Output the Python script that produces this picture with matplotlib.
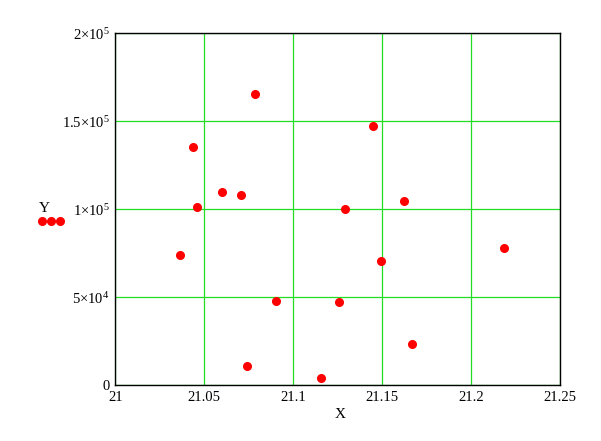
import matplotlib
matplotlib.use('Agg')
import matplotlib.pyplot as plt
from matplotlib.lines import Line2D

# data
x_vals = [21.0365, 21.0438, 21.0461, 21.0601, 21.0708, 21.0787, 21.0742, 21.0904,
          21.1157, 21.1258, 21.1292, 21.1449, 21.1494, 21.1624, 21.1669, 21.2185]
y_vals = [73900, 135600, 101500, 109500, 107800, 165200, 10800, 47700,
          4000, 47200, 99800, 147000, 70300, 104400, 23300, 77700]

x_ticks = [21, 21.05, 21.1, 21.15, 21.2, 21.25]
x_tick_labels = ['21', '21.05', '21.1', '21.15', '21.2', '21.25']
y_ticks = [0, 50000, 100000, 150000, 200000]
y_tick_labels = ['0', r'$5{\times}10^{4}$', r'$1{\times}10^{5}$',
                 r'$1.5{\times}10^{5}$', r'$2{\times}10^{5}$']

plt.rcParams['font.family'] = 'Liberation Serif'
plt.rcParams['mathtext.fontset'] = 'custom'
plt.rcParams['mathtext.rm'] = 'Liberation Serif'
plt.rcParams['mathtext.it'] = 'Liberation Serif'

fig = plt.figure(figsize=(6.01, 4.41), dpi=100)
ax = fig.add_axes([0.1919, 0.127, 0.7404, 0.7975])

ax.plot(x_vals, y_vals, 'o', color='#ff0000', markersize=5.5, zorder=3)

ax.set_xlim(21, 21.25)
ax.set_ylim(0, 200000)
ax.set_xticks(x_ticks)
ax.set_xticklabels(x_tick_labels, fontsize=10.5)
ax.set_yticks(y_ticks)
ax.set_yticklabels(y_tick_labels, fontsize=10.5)
ax.tick_params(length=0, pad=4)

ax.grid(True, color='#22dd22', linewidth=0.9)
for s in ax.spines.values():
    s.set_linewidth(1.0)
    s.set_color('black')

fig.text(340 / 601, 1 - 415 / 441, 'X', ha='center', va='center', fontsize=11)
fig.text(44 / 601, 1 - 209 / 441, 'Y', ha='center', va='center', fontsize=11)
fig.add_artist(Line2D([42 / 601, 51 / 601, 60 / 601], [1 - 221 / 441] * 3,
                      transform=fig.transFigure, linestyle='none', marker='o',
                      color='#ff0000', markersize=5.5))

plt.savefig('out.png', dpi=100)
plt.close()
